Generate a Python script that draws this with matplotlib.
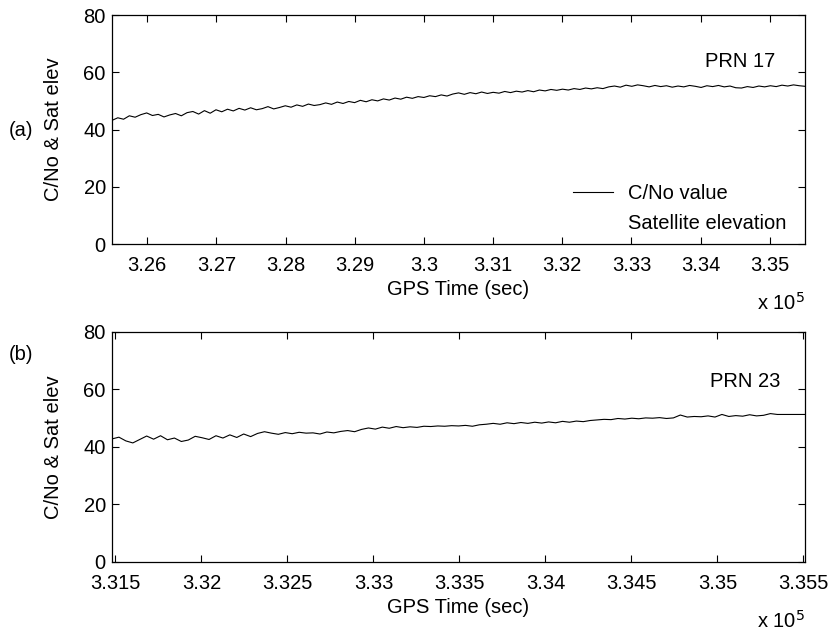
import numpy as np
import matplotlib
matplotlib.use("Agg")
import matplotlib.pyplot as plt
from matplotlib.lines import Line2D
from matplotlib.ticker import FuncFormatter

plt.rcParams['font.family'] = ['Liberation Sans', 'DejaVu Sans']
plt.rcParams['font.size'] = 14.5

# PRN 17: GPS time span (sec) and C/No readings
t17_start, t17_end = 325490.0, 335510.0
cno17 = [
    43.2, 44.1, 43.6, 44.8, 44.3, 45.2,
    45.8, 44.9, 45.3, 44.4, 45.1, 45.6,
    44.8, 45.9, 46.3, 45.4, 46.6, 45.7,
    46.9, 46.2, 47.1, 46.5, 47.4, 46.8,
    47.6, 46.9, 47.3, 48.0, 47.2, 47.7,
    48.3, 47.8, 48.6, 48.1, 48.9, 48.4,
    48.7, 49.3, 48.8, 49.6, 49.1, 49.8,
    49.4, 50.2, 49.7, 50.4, 50.0, 50.7,
    50.3, 51.0, 50.6, 51.3, 50.9, 51.5,
    51.2, 51.8, 51.5, 52.1, 51.7, 52.4,
    52.8, 52.3, 52.9, 52.5, 53.1, 52.6,
    53.0, 52.7, 53.3, 52.9, 53.4, 53.1,
    53.6, 53.2, 53.8, 53.5, 54.0, 53.7,
    54.1, 53.8, 54.3, 54.0, 54.5, 54.2,
    54.6, 54.3, 54.9, 55.2, 54.8, 55.5,
    55.1, 55.6, 55.3, 54.9, 55.4, 55.0,
    55.3, 54.8, 55.2, 54.9, 55.4, 55.1,
    54.7, 55.3, 55.0, 55.4, 54.9, 55.2,
    54.6, 54.5, 55.0, 54.7, 55.2, 54.9,
    55.3, 55.0, 55.5, 55.2, 55.6, 55.3,
    55.1,
]

# PRN 23
t23_start, t23_end = 331480.0, 335510.0
cno23 = [
    42.8, 43.4, 42.1, 41.4, 42.6, 43.8, 42.7, 43.9, 42.5, 43.1,
    41.9, 42.4, 43.7, 43.2, 42.6, 43.9, 43.1, 44.2, 43.3, 44.5,
    43.6, 44.7, 45.3, 44.8, 44.4, 45.0, 44.6, 45.1, 44.8, 44.9,
    44.5, 45.2, 44.9, 45.4, 45.7, 45.3, 46.1, 46.6, 46.2, 46.9,
    46.5, 47.1, 46.7, 47.0, 46.8, 47.2, 47.1, 47.3, 47.2, 47.4,
    47.3, 47.5, 47.2, 47.7, 47.9, 48.2, 47.9, 48.4, 48.1, 48.5,
    48.2, 48.6, 48.3, 48.7, 48.4, 48.9, 48.6, 49.0, 48.8, 49.2,
    49.4, 49.6, 49.5, 49.9, 49.7, 50.0, 49.8, 50.1, 50.0, 50.2,
    49.9, 50.1, 51.1, 50.4, 50.6, 50.5, 50.8, 50.4, 51.3, 50.6,
    50.9, 50.7, 51.2, 50.8, 51.0, 51.6, 51.3, 51.3, 51.3, 51.3, 51.3,
]

ticks17 = [3.26, 3.27, 3.28, 3.29, 3.30, 3.31, 3.32, 3.33, 3.34, 3.35]
ticks23 = [3.315, 3.32, 3.325, 3.33, 3.335, 3.34, 3.345, 3.35, 3.355]
yticks = [0, 20, 40, 60, 80]

panels = [
    (cno17, t17_start, t17_end, ticks17, "PRN 17", 334060, 63.9),
    (cno23, t23_start, t23_end, ticks23, "PRN 23", 334955, 62.8),
]

fig = plt.figure(figsize=(8.31, 6.32), dpi=100)
ax_top = fig.add_axes([0.1348, 0.6139, 0.834, 0.3623])
ax_bot = fig.add_axes([0.1348, 0.1108, 0.834, 0.3640])
fmt = FuncFormatter(lambda v, p: "%g" % round(v / 1e5, 4))

for ax, (vals, t0, t1, tks, prn, px, py) in zip([ax_top, ax_bot], panels):
    t = np.linspace(t0, t1, len(vals))
    ax.plot(t, vals, color='black', lw=0.8)
    ax.set_xlim(t0, t1)
    ax.set_ylim(0, 80)
    ax.set_xticks([v * 1e5 for v in tks])
    ax.xaxis.set_major_formatter(fmt)
    ax.set_yticks(yticks)
    ax.tick_params(direction='in', top=True, right=True, length=5, width=0.8)
    ax.tick_params(axis='x', pad=8.5)
    ax.tick_params(axis='y', pad=4.5)
    for s in ax.spines.values():
        s.set_linewidth(0.9)
    ax.set_xlabel("GPS Time (sec)", labelpad=4)
    ax.set_ylabel("C/No & Sat elev")
    ax.yaxis.set_label_coords(-0.071, 0.5)
    ax.text(px, py, prn, va='center', ha='left')
    ax.text(0.931, -0.255, r"x 10$^5$", transform=ax.transAxes, ha='left', va='center')

fig.text(21 / 831, 1 - 130 / 632, "(a)", ha='center', va='center')
fig.text(21 / 831, 1 - 354 / 632, "(b)", ha='center', va='center')

handles = [Line2D([], [], color='black', lw=0.8), Line2D([], [], color='white', lw=0.8)]
ax_top.legend(handles, ["C/No value", "Satellite elevation"], loc='lower left',
              bbox_to_anchor=(0.665, 0.048), frameon=False, handlelength=2.0,
              handletextpad=0.75, labelspacing=0.55, borderaxespad=0, borderpad=0)

fig.savefig("out.png", dpi=100)
